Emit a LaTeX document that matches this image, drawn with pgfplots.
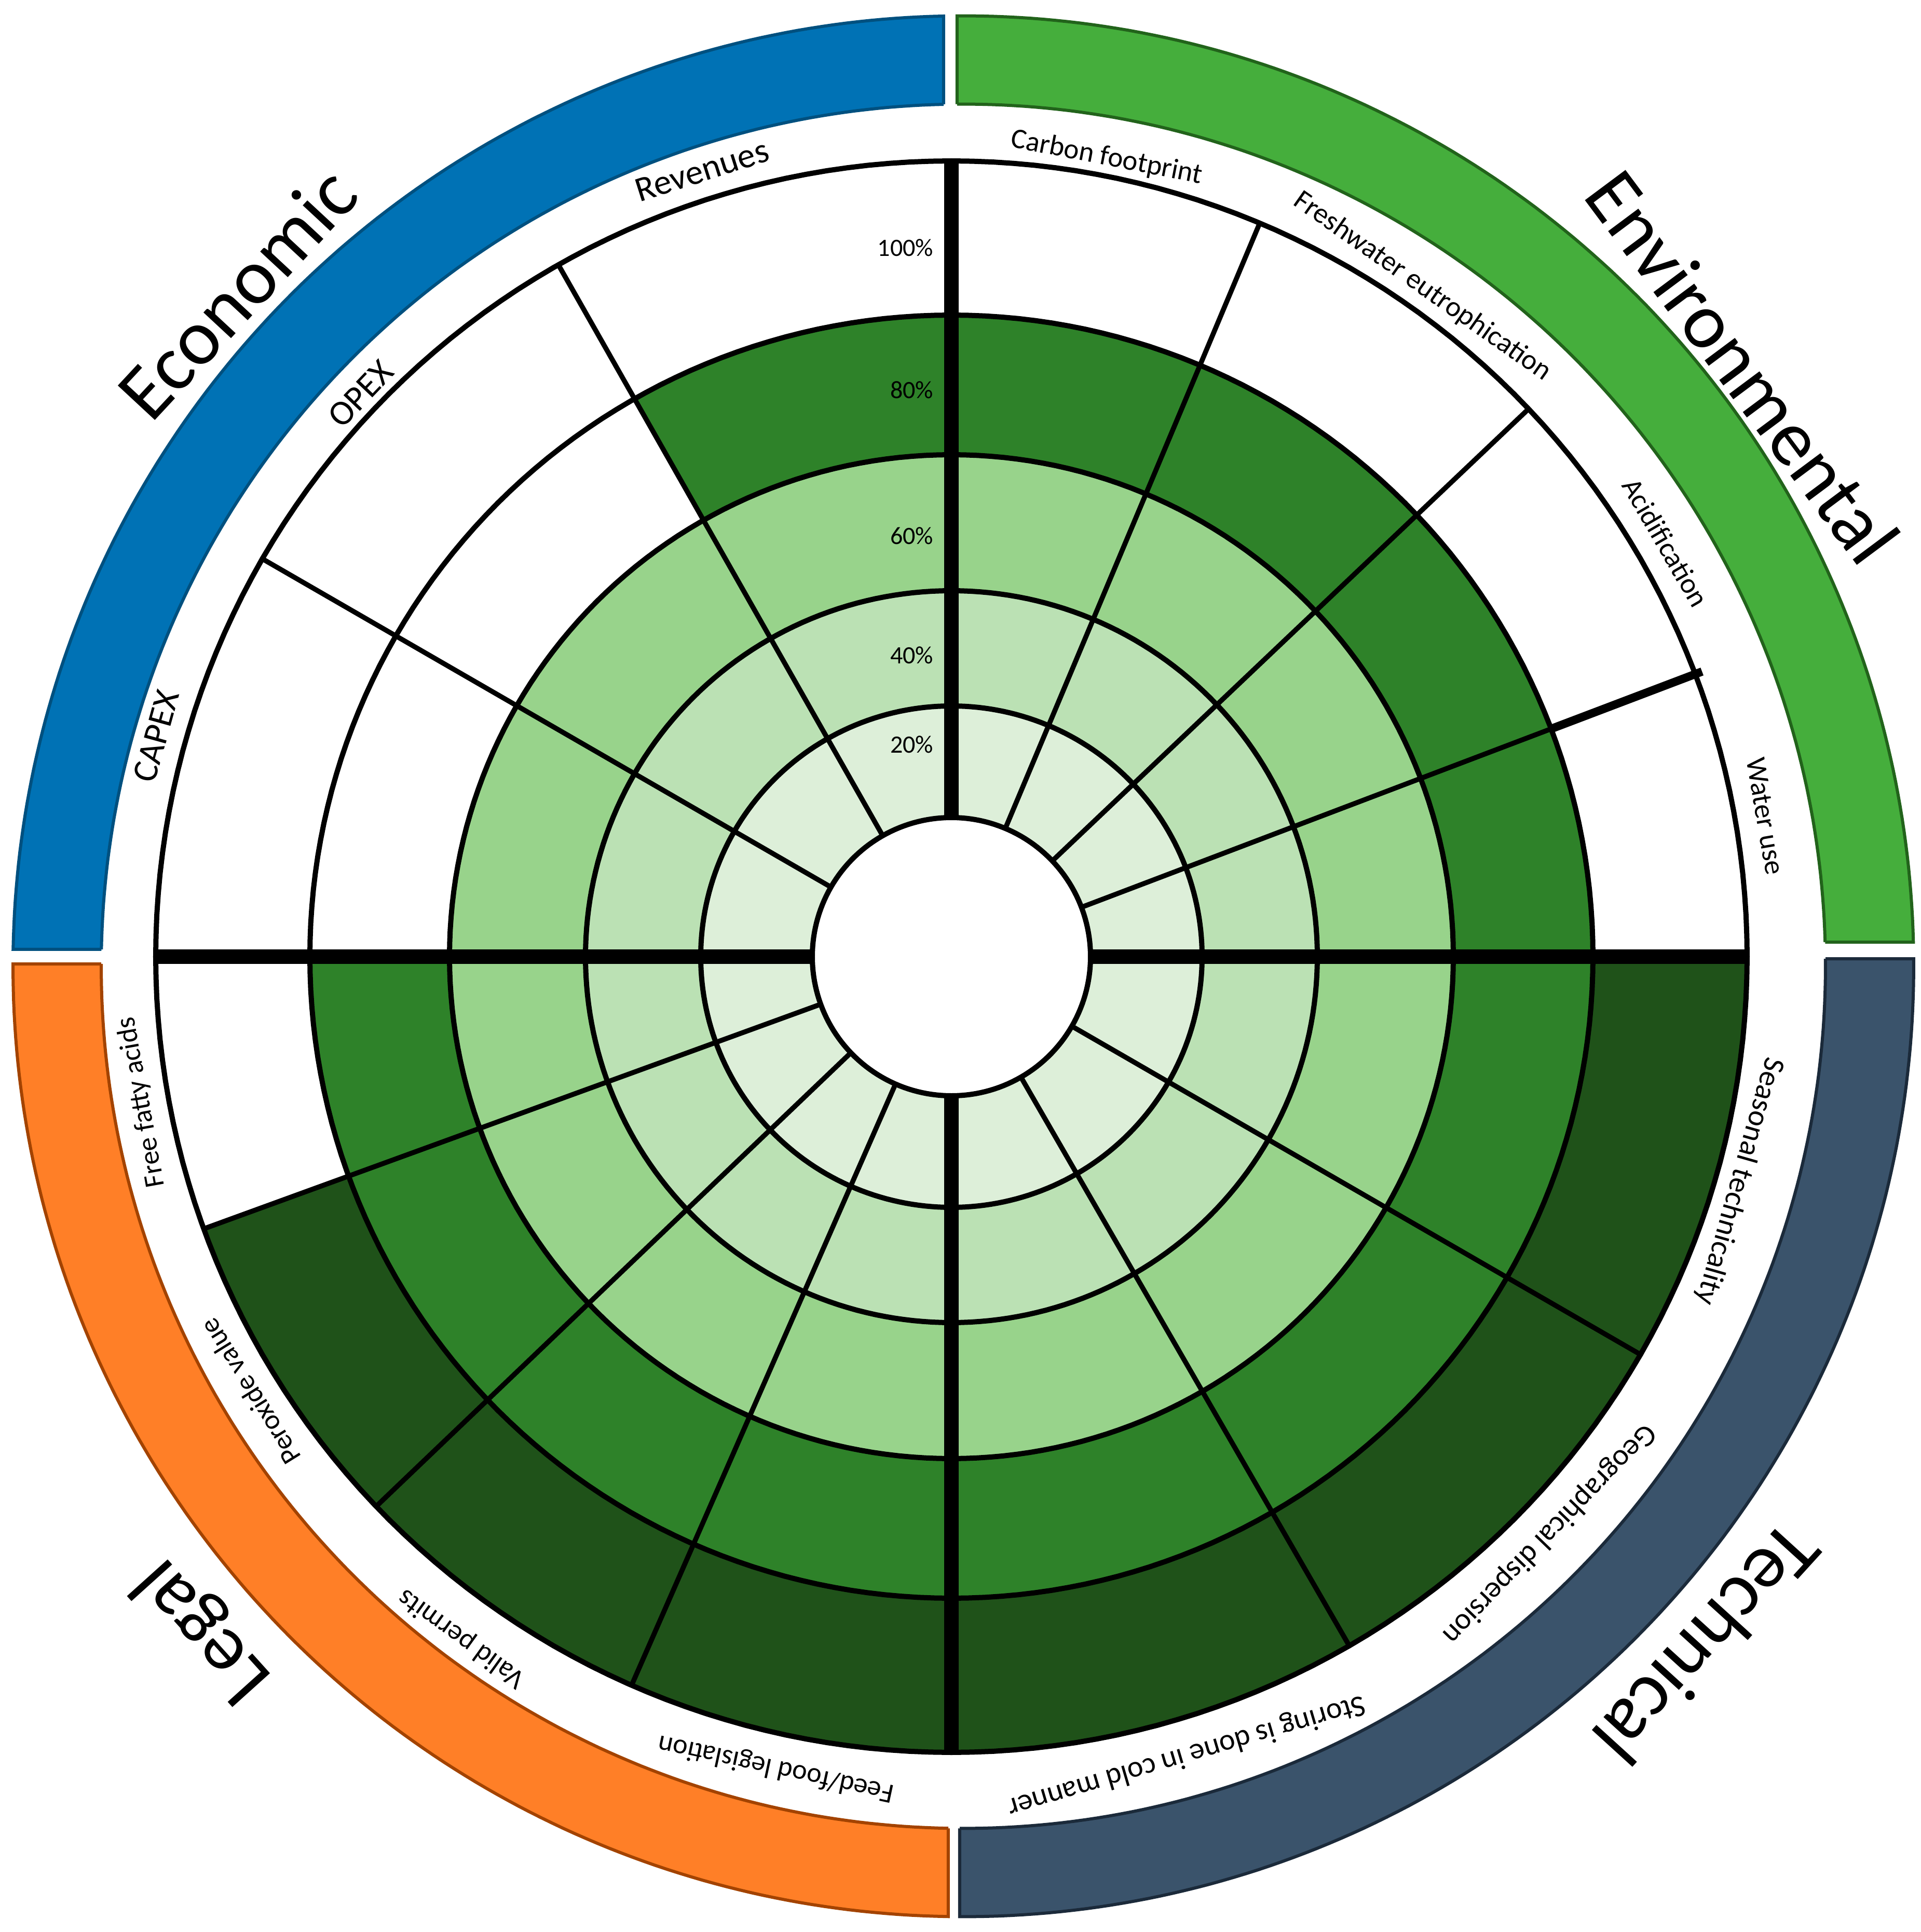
\documentclass[border=0pt]{standalone}
\usepackage{fontspec}
\setmainfont{Carlito}
\usepackage{pgfplots}
\pgfplotsset{compat=1.18}
\usepgfplotslibrary{polar}

% stacked levels, light to dark
\definecolor{lvA}{HTML}{DDEFD9}
\definecolor{lvB}{HTML}{BBE1B4}
\definecolor{lvC}{HTML}{98D38B}
\definecolor{lvD}{HTML}{2E8229}
\definecolor{lvE}{HTML}{1F5219}
% category bands
\definecolor{ecoFill}{HTML}{0072B5}
\definecolor{ecoEdge}{HTML}{00507F}
\definecolor{envFill}{HTML}{45AE3C}
\definecolor{envEdge}{HTML}{22631B}
\definecolor{tecFill}{HTML}{3A536B}
\definecolor{tecEdge}{HTML}{1B2A3A}
\definecolor{legFill}{HTML}{FF7F27}
\definecolor{legEdge}{HTML}{A34300}

% one stacked layer: start angle, end angle, outer radius, colour
\newcommand{\layer}[4]{\addplot[fill=#4, draw=none, domain=#1:#2, samples=41] {#3} -- (axis cs:0,0) -- cycle;}
% one criterion: start angle, end angle, number of filled levels (of 5)
\newcommand{\sector}[3]{%
  \ifnum#3>4 \layer{#1}{#2}{1533}{lvE}\fi
  \ifnum#3>3 \layer{#1}{#2}{1236}{lvD}\fi
  \ifnum#3>2 \layer{#1}{#2}{967}{lvC}\fi
  \ifnum#3>1 \layer{#1}{#2}{705}{lvB}\fi
  \ifnum#3>0 \layer{#1}{#2}{483}{lvA}\fi
}
% category band: start, end, corner angle, corner radius, fill, edge
\newcommand{\band}[6]{\addplot[fill=#5, draw=#6, line width=0.6pt, domain=#1:#2, samples=120, xshift=2.3pt, yshift=-1.85pt] {1831} -- (axis cs:#3,#4) -- cycle;}
\newcommand{\bandin}[3]{\addplot[draw=#3, line width=0.6pt, domain=#1:#2, samples=120, xshift=2.3pt, yshift=-1.85pt] {1661};}

\begin{document}
\begin{tikzpicture}
\begin{polaraxis}[
  scale only axis,
  width=366.2pt, height=366.2pt,
  xmin=0, xmax=360,
  ymin=0, ymax=1831,
  hide axis,
  clip=false,
]
\coordinate (O) at (axis cs:0,0);

% outer category bands
\band{91.19}{178.98}{139.46}{50.0}{ecoFill}{ecoEdge}
\band{1.455}{90.38}{104.47}{48.0}{envFill}{envEdge}
\band{-90.22}{0.454}{115.77}{16.1}{tecFill}{tecEdge}
\band{179.86}{269.09}{171.18}{29.35}{legFill}{legEdge}
\addplot[fill=white, draw=none, domain=0:360, samples=361, xshift=2.3pt, yshift=-1.85pt] {1661} -- cycle;
\bandin{91.31}{178.88}{ecoEdge}
\bandin{1.604}{90.41}{envEdge}
\bandin{-90.24}{0.50}{tecEdge}
\bandin{179.84}{269.0}{legEdge}

% criteria: start, end, level
\sector{90}{119.6}{4}      % Revenues
\sector{119.6}{150}{3}     % OPEX
\sector{150}{180}{3}       % CAPEX
\sector{67.2}{90}{4}       % Carbon footprint
\sector{43.5}{67.2}{4}     % Freshwater eutrophication
\sector{20.8}{43.5}{4}     % Acidification
\sector{0}{20.8}{4}        % Water use
\sector{-30}{0}{5}         % Seasonal technicality
\sector{-60}{-30}{5}       % Geographical dispersion
\sector{-90}{-60}{5}       % Storing is done in cold manner
\sector{-113.7}{-90}{5}    % Feed/food legislation
\sector{-136.3}{-113.7}{5} % Valid permits
\sector{-160}{-136.3}{5}   % Peroxide value
\sector{-180}{-160}{4}     % Free fatty acids

% hole
\addplot[fill=white, draw=black, line width=1pt, domain=0:360, samples=181] {268} -- cycle;

% grid rings
\pgfplotsinvokeforeach{483,705,967,1236,1533}{
  \addplot[black, line width=1pt, domain=0:360, samples=241] {#1} -- cycle;
}
% sector boundaries
\pgfplotsinvokeforeach{119.6,150,67.2,43.5,20.8,-30,-60,-113.7,-136.3,-160}{
  \addplot[black, line width=0.95pt] coordinates {(#1,268) (#1,1533)};
}
\pgfplotsinvokeforeach{0,90,180,270}{
  \addplot[black, line width=2.8pt] coordinates {(#1,268) (#1,1533)};
}
\addplot[black, line width=1.6pt] coordinates {(20.8,1236) (20.8,1547)};

% percent labels
\node[anchor=east, inner sep=0pt, xshift=-3.3pt, font=\fontsize{4.8}{6}\selectfont] at (axis cs:90,1366) {100\%};
\node[anchor=east, inner sep=0pt, xshift=-3.3pt, font=\fontsize{4.8}{6}\selectfont] at (axis cs:90,1092) {80\%};
\node[anchor=east, inner sep=0pt, xshift=-3.3pt, font=\fontsize{4.8}{6}\selectfont] at (axis cs:90,811) {60\%};
\node[anchor=east, inner sep=0pt, xshift=-3.3pt, font=\fontsize{4.8}{6}\selectfont] at (axis cs:90,581) {40\%};
\node[anchor=east, inner sep=0pt, xshift=-3.3pt, font=\fontsize{4.8}{6}\selectfont] at (axis cs:90,409) {20\%};

% criteria labels
\node[rotate=17.6, font=\fontsize{6.8}{8}\selectfont] at (axis cs:107.6,1589) {Revenues};
\node[rotate=46.4, font=\fontsize{6.8}{8}\selectfont] at (axis cs:136.4,1572) {OPEX};
\node[rotate=74.5, font=\fontsize{6.8}{8}\selectfont] at (axis cs:164.5,1590) {CAPEX};
\node[rotate=-11.0, font=\fontsize{5.5}{7}\selectfont] at (axis cs:79.0,1568) {Carbon footprint};
\node[rotate=-35.1, font=\fontsize{5.5}{7}\selectfont] at (axis cs:54.9,1578) {Freshwater eutrophication};
\node[rotate=-59.9, font=\fontsize{5.5}{7}\selectfont] at (axis cs:30.1,1591) {Acidification};
\node[rotate=-80.2, font=\fontsize{5.5}{7}\selectfont] at (axis cs:9.8,1591) {Water use};
\node[rotate=-105.9, font=\fontsize{5.8}{7}\selectfont] at (axis cs:-15.9,1578) {Seasonal technicality};
\node[rotate=-134.0, font=\fontsize{5.8}{7}\selectfont] at (axis cs:-44.0,1600) {Geographical dispersion};
\node[rotate=-163.6, font=\fontsize{5.8}{7}\selectfont] at (axis cs:-73.6,1604) {Storing is done in cold manner};
\node[rotate=-192.2, font=\fontsize{5.4}{7}\selectfont] at (axis cs:-102.2,1599) {Feed/food legislation};
\node[rotate=-215.7, font=\fontsize{5.4}{7}\selectfont] at (axis cs:-125.7,1617) {Valid permits};
\node[rotate=-238.2, font=\fontsize{5.4}{7}\selectfont] at (axis cs:-148.2,1590) {Peroxide value};
\node[rotate=-259.8, font=\fontsize{5.4}{7}\selectfont] at (axis cs:-169.8,1585) {Free fatty acids};

% category labels
\node[rotate=47.1, font=\fontsize{15.2}{17}\selectfont] at (axis cs:137.1,1879) {Economic};
\node[rotate=-53.3, font=\fontsize{15.2}{17}\selectfont] at (axis cs:36.7,1902) {Environmental};
\node[rotate=-132.3, font=\fontsize{15.2}{17}\selectfont] at (axis cs:-42.3,1968) {Technical};
\node[rotate=-228.0, font=\fontsize{15.2}{17}\selectfont] at (axis cs:-138.0,1939) {Legal};
\end{polaraxis}
\pgfresetboundingbox
\path (O) ++(-183.3pt,-187.9pt) rectangle ++(370pt,372.2pt);
\end{tikzpicture}
\end{document}
